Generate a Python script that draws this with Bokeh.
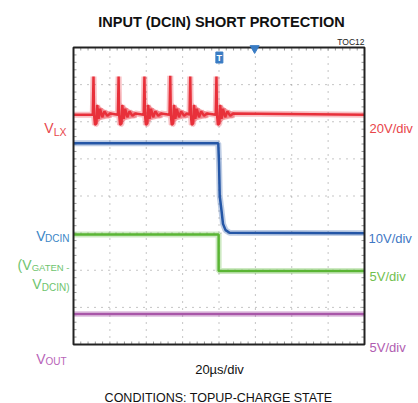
from bokeh.plotting import figure
from bokeh.models import Range1d, Label
from bokeh.embed import file_html
from bokeh.resources import INLINE

# ---- data (screen divisions, 8 x 8 graticule) ----
vlx_level = 6.19
vlx_spike_x = [0.55, 1.24, 1.95, 2.66, 3.21, 3.93]
vlx_spike_top = [7.22, 7.22, 7.22, 7.24, 7.22, 7.22]
ring_dx = [-0.02, 0.0, 0.015, 0.04, 0.08, 0.10, 0.14, 0.18, 0.24, 0.30, 0.38, 0.46]
ring_y = [6.19, None, 6.20, 5.92, 5.95, 6.45, 6.08, 6.35, 6.12, 6.28, 6.16, 6.22]
env_dx = [0.03, 0.08, 0.20, 0.35, 0.50]
env_top = [6.00, 6.50, 6.40, 6.30, 6.25]
env_bot = [5.85, 5.95, 6.05, 6.08, 6.10]

vdcin_x = [0, 3.98, 4.00, 4.02, 4.07, 4.11, 4.18, 4.29, 8]
vdcin_y = [5.42, 5.42, 4.90, 4.00, 3.60, 3.25, 3.08, 3.01, 3.00]

vgate_x = [0, 3.99, 3.99, 8]
vgate_y = [2.96, 2.96, 1.98, 1.98]

vout_x = [0, 8]
vout_y = [0.82, 0.82]

trigger_x = 4.01
trigger_pos_x = 4.98

divisions = 8
grid_lines = [1, 2, 3, 4, 5, 6, 7]
minor_ticks = [i * 0.2 for i in range(1, 40)]

# colours
RED = "#e8303a"
BLUE = "#2456a6"
GREEN = "#5ab534"
PURPLE = "#a856a8"
FONT = "Liberation Sans"

# canvas geometry (pixels) -> divisions
W, H = 418, 403
FX0, FY0, PXX, PXY = 73, 344, 36.375, 37.125


def X(px):
    return (px - FX0) / PXX


def Y(py):
    return (FY0 - py) / PXY


# build VLX trace from spike positions and ringing shape
lx_x = [0.0]
lx_y = [vlx_level]
for sx, top in zip(vlx_spike_x, vlx_spike_top):
    for dx, yy in zip(ring_dx, ring_y):
        lx_x.append(sx + dx)
        lx_y.append(top if yy is None else yy)
lx_x.append(8.0)
lx_y.append(vlx_level)

p = figure(width=W, height=H, x_range=Range1d(X(0), X(W)), y_range=Range1d(Y(H), Y(0)),
           output_backend="svg", toolbar_location=None,
           x_axis_type=None, y_axis_type=None,
           min_border_left=0, min_border_right=0, min_border_top=0, min_border_bottom=0)
p.background_fill_color = "white"
p.border_fill_color = "white"
p.outline_line_color = None
p.xgrid.visible = False
p.ygrid.visible = False

# dotted graticule
p.segment(x0=grid_lines, y0=[0] * 7, x1=grid_lines, y1=[divisions] * 7,
          line_color="#8a8a8a", line_dash="1 6", line_width=1)
p.segment(x0=[0] * 7, y0=grid_lines, x1=[divisions] * 7, y1=grid_lines,
          line_color="#8a8a8a", line_dash="1 6", line_width=1)

# small ticks inside the frame edges
tl_x = 3 / PXX
tl_y = 3 / PXY
n = len(minor_ticks)
p.segment(x0=minor_ticks, y0=[0] * n, x1=minor_ticks, y1=[tl_y] * n, line_color="#9a9a9a")
p.segment(x0=minor_ticks, y0=[divisions] * n, x1=minor_ticks, y1=[divisions - tl_y] * n, line_color="#9a9a9a")
p.segment(x0=[0] * n, y0=minor_ticks, x1=[tl_x] * n, y1=minor_ticks, line_color="#9a9a9a")
p.segment(x0=[divisions] * n, y0=minor_ticks, x1=[divisions - tl_x] * n, y1=minor_ticks, line_color="#9a9a9a")

# ringing envelopes
for sx in vlx_spike_x:
    p.varea(x=[sx + d for d in env_dx], y1=env_bot, y2=env_top, fill_color=RED, fill_alpha=0.4)

# traces: wide faint band + core
for xs, ys, c in [(vout_x, vout_y, PURPLE), (vgate_x, vgate_y, GREEN),
                  (vdcin_x, vdcin_y, BLUE), (lx_x, lx_y, RED)]:
    p.line(xs, ys, line_color=c, line_width=6, line_alpha=0.3)
    p.line(xs, ys, line_color=c, line_width=2.5)

# frame
p.rect(x=[divisions / 2], y=[divisions / 2], width=divisions, height=divisions,
       fill_color=None, line_color="#222222", line_width=2)

# trigger markers
p.rect(x=[trigger_x], y=[7.73], width=7, height=11, width_units="screen", height_units="screen",
       fill_color="#3a7cc4", line_color="#3a7cc4")
p.add_layout(Label(x=trigger_x, y=7.73, text="T", text_align="center", text_baseline="middle",
                   text_color="white", text_font=FONT, text_font_style="bold", text_font_size="9px"))
p.scatter(x=[trigger_pos_x], y=[divisions - 0.02], marker="inverted_triangle", size=9,
          fill_color="#3a7cc4", line_color="#3a7cc4")


def lab(text, px, py, color, size, align="left", bold=False):
    p.add_layout(Label(x=X(px), y=Y(py), text=text, text_align=align, text_baseline="alphabetic",
                       text_font=FONT, text_font_size=f"{size}px", text_color=color,
                       text_font_style="bold" if bold else "normal"))


lab("INPUT (DCIN) SHORT PROTECTION", 221, 21, "#111111", 14.5, "center", True)
lab("TOC12", 364, 41, "#222222", 8.5, "right")
lab("20µs/div", 219, 369, "#111111", 13, "center")
lab("CONDITIONS: TOPUP-CHARGE STATE", 218, 397, "#111111", 12.5, "center")

# right labels
lab("20V/div", 369, 128, "#e8454a", 13)
lab("10V/div", 368, 238, "#3f78c4", 13)
lab("5V/div", 369, 276, "#72c04e", 13)
lab("5V/div", 369, 347, "#b05cb0", 13)

# left labels
C_LX = "#e8474d"
C_DC = "#3a86c6"
C_GT = "#6ec46e"
C_OUT = "#b864b8"
lab("V", 53, 127, C_LX, 14, "right")
lab("LX", 66, 131, C_LX, 10.5, "right")
lab("V", 45, 235, C_DC, 14, "right")
lab("DCIN", 69, 238, C_DC, 10, "right")
lab("(V", 31, 264, C_GT, 14, "right")
lab("GATEN -", 69, 267, C_GT, 9.5, "right")
lab("V", 41, 283, C_GT, 14, "right")
lab("DCIN)", 69, 287, C_GT, 10, "right")
lab("V", 45, 358, C_OUT, 14, "right")
lab("OUT", 66, 361, C_OUT, 10, "right")

open("out.html", "w").write(file_html(p, INLINE))
